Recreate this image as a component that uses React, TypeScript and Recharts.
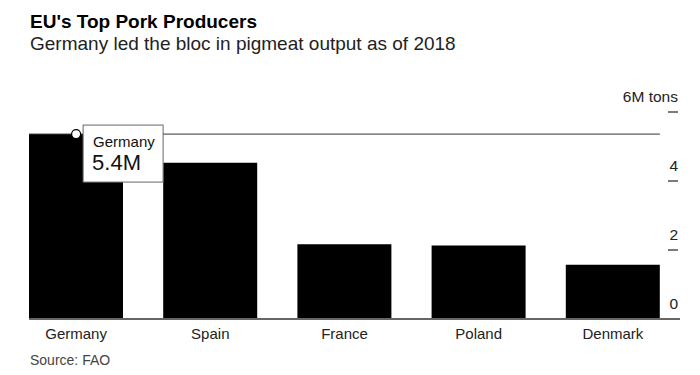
import React from "react"
import { BarChart, Bar, XAxis, YAxis, ReferenceLine, ReferenceDot } from "recharts"

const countries = ["Germany", "Spain", "France", "Poland", "Denmark"]
const output = [5.36, 4.53, 2.17, 2.13, 1.57]
const yTicks = [0, 2, 4, 6]
const yTickLabels = ["0", "2", "4", "6M tons"]

const data = countries.map((country, i) => ({ country, value: output[i], slot: i }))

const FONT = '"Liberation Sans", Arial, Helvetica, sans-serif'
const BAR_SIZE = 94
// share of a category band left empty on each side of a bar
const EDGE = 0.15

function RightTick(props: any) {
  const { x, y, payload } = props
  const i = yTicks.indexOf(payload.value)
  return (
    <g>
      {payload.value > 0 && (
        <line x1={x - 12} x2={x - 2} y1={y} y2={y} stroke="#333" strokeWidth={1.3} />
      )}
      <text x={x - 2} y={y - 10} textAnchor="end" fontSize={15.5} fill="#222" fontFamily={FONT}>
        {yTickLabels[i]}
      </text>
    </g>
  )
}

function Callout(props: any) {
  const { cx, cy } = props
  return (
    <g>
      <rect x={cx + 7} y={cy - 9} width={80} height={57} fill="#fff" stroke="#666" strokeWidth={1} />
      <text x={cx + 17} y={cy + 13} fontSize={15} fill="#111" fontFamily={FONT}>
        {countries[0]}
      </text>
      <text x={cx + 16} y={cy + 36} fontSize={22} fill="#111" fontFamily={FONT}>
        {`${output[0].toFixed(1)}M`}
      </text>
      <circle cx={cx} cy={cy} r={4.5} fill="#fff" stroke="#000" strokeWidth={1.2} />
    </g>
  )
}

export default function App() {
  const n = countries.length
  return (
    <div
      style={{
        position: "absolute",
        left: 0,
        top: 0,
        width: 700,
        height: 375,
        background: "#fff",
        fontFamily: FONT,
      }}
    >
      <div style={{ position: "absolute", left: 30, top: 12, fontSize: 19, lineHeight: 1, fontWeight: 700, color: "#000" }}>
        EU's Top Pork Producers
      </div>
      <div style={{ position: "absolute", left: 30, top: 34, fontSize: 19, lineHeight: 1, color: "#222" }}>
        Germany led the bloc in pigmeat output as of 2018
      </div>
      <BarChart
        width={700}
        height={375}
        data={data}
        margin={{ top: 112, right: 0, bottom: 26, left: 9 }}
        style={{ position: "absolute", left: 0, top: 0 }}
      >
        <XAxis
          dataKey="country"
          height={30}
          axisLine={false}
          tickLine={false}
          tickSize={0}
          tickMargin={9}
          interval={0}
          tick={{ fontSize: 15, fill: "#222", fontFamily: FONT }}
        />
        <XAxis
          xAxisId="num"
          dataKey="slot"
          type="number"
          domain={[0, n]}
          allowDataOverflow
          height={0}
          tick={false}
          axisLine={false}
          tickLine={false}
        />
        <YAxis
          orientation="right"
          domain={[0, 6]}
          ticks={yTicks}
          width={20}
          axisLine={false}
          tickLine={false}
          tickSize={0}
          tickMargin={0}
          tick={<RightTick />}
        />
        <Bar dataKey="value" fill="#000" barSize={BAR_SIZE} isAnimationActive={false} />
        <ReferenceLine
          xAxisId="num"
          ifOverflow="visible"
          segment={[{ x: EDGE, y: 0 }, { x: n, y: 0 }]}
          stroke="#666"
          strokeWidth={2}
        />
        <ReferenceLine
          xAxisId="num"
          ifOverflow="visible"
          segment={[{ x: EDGE, y: output[0] }, { x: n - EDGE, y: output[0] }]}
          stroke="#333"
          strokeWidth={1}
        />
        <ReferenceDot x={countries[0]} y={output[0]} ifOverflow="visible" shape={<Callout />} />
      </BarChart>
      <div style={{ position: "absolute", left: 30, top: 353, fontSize: 14, lineHeight: 1, color: "#444" }}>
        Source: FAO
      </div>
    </div>
  )
}
